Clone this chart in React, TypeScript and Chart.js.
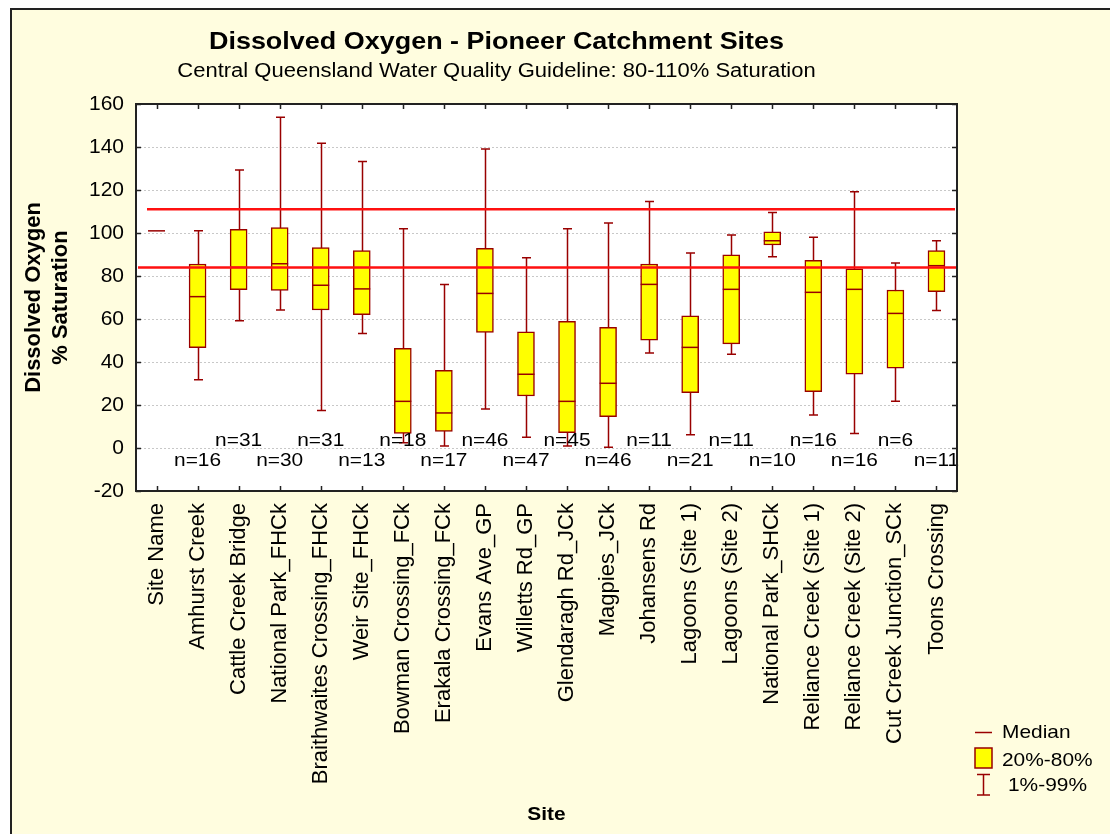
import React, { useEffect, useRef } from "react";
import { Chart, registerables } from "chart.js";

Chart.register(...registerables);

const categories = [
  "Site Name",
  "Amhurst Creek",
  "Cattle Creek Bridge",
  "National Park_FHCk",
  "Braithwaites Crossing_FHCk",
  "Weir Site_FHCk",
  "Bowman Crossing_FCk",
  "Erakala Crossing_FCk",
  "Evans Ave_GP",
  "Willetts Rd_GP",
  "Glendaragh Rd_JCk",
  "Magpies_JCk",
  "Johansens Rd",
  "Lagoons (Site 1)",
  "Lagoons (Site 2)",
  "National Park_SHCk",
  "Reliance Creek (Site 1)",
  "Reliance Creek (Site 2)",
  "Cut Creek Junction_SCk",
  "Toons Crossing",
];

const whiskerLow = [null, 31.8, 59.2, 64.2, 17.5, 53.2, 2.5, 0.9, 18.1, 5.0, 0.9, 0.3, 44.2, 6.2, 43.6, 89.0, 15.3, 6.8, 21.7, 63.9];
const boxLow = [null, 46.7, 73.6, 73.3, 64.2, 62.0, 6.8, 7.7, 53.8, 24.2, 7.1, 14.6, 50.2, 25.7, 48.4, 94.4, 26.2, 34.3, 37.1, 72.7];
const medians = [101, 70.4, 84.0, 85.7, 75.7, 74.0, 21.7, 16.3, 71.9, 34.3, 21.7, 30.1, 76.1, 46.8, 73.8, 96.4, 72.4, 73.8, 62.6, 84.8];
const boxHigh = [null, 85.6, 101.7, 102.5, 93.2, 91.8, 46.4, 36.1, 92.9, 54.0, 58.9, 56.1, 85.6, 61.5, 89.9, 100.6, 87.3, 83.3, 73.5, 91.8];
const whiskerHigh = [null, 101.0, 129.3, 153.8, 141.7, 133.2, 102.0, 76.1, 139.1, 88.5, 102.0, 104.7, 114.6, 90.7, 99.1, 109.5, 98.0, 119.2, 86.0, 96.4];
const sampleCounts = [null, 16, 31, 30, 31, 13, 18, 17, 46, 47, 45, 46, 11, 21, 11, 10, 16, 16, 6, 11];
const guidelineUpper = 111;
const guidelineLower = 84;
const nLabelUpperValue = 3.3;
const nLabelLowerValue = -6;

const titleText = "Dissolved Oxygen - Pioneer Catchment Sites";
const subtitleText = "Central Queensland Water Quality Guideline: 80-110% Saturation";
const yTitleLines = ["Dissolved Oxygen", "% Saturation"];
const xTitleText = "Site";
const legendItems = ["Median", "20%-80%", "1%-99%"];

const FONT = "'Liberation Sans', Arial, sans-serif";
const DARKRED = "#990000";
const BG = "#FFFDDF";
const STRETCH = 1.1;

function stretchedText(ctx: CanvasRenderingContext2D, text: string, x: number, y: number) {
  ctx.save();
  ctx.translate(x, y);
  ctx.scale(STRETCH, 1);
  ctx.fillText(text, 0, 0);
  ctx.restore();
}

export default function App() {
  const ref = useRef<HTMLCanvasElement | null>(null);

  useEffect(() => {
    document.body.style.margin = "0";
    const canvas = ref.current;
    if (!canvas) return;

    const boxPlugin = {
      id: "boxExtras",
      beforeDraw(chart: any) {
        const { ctx, chartArea: a } = chart;
        ctx.save();
        ctx.fillStyle = "#ffffff";
        ctx.fillRect(0, 0, chart.width, chart.height);
        ctx.fillStyle = BG;
        ctx.fillRect(10, 8, chart.width - 10, chart.height - 8);
        ctx.strokeStyle = "#222";
        ctx.lineWidth = 2;
        ctx.beginPath();
        ctx.moveTo(11, chart.height);
        ctx.lineTo(11, 9);
        ctx.lineTo(chart.width, 9);
        ctx.stroke();
        ctx.fillStyle = "#ffffff";
        ctx.fillRect(a.left, a.top, a.right - a.left, a.bottom - a.top);
        ctx.restore();
      },
      beforeDatasetsDraw(chart: any) {
        const { ctx } = chart;
        const xs = chart.scales.x;
        const ys = chart.scales.y;
        ctx.save();
        ctx.strokeStyle = DARKRED;
        ctx.lineWidth = 1.5;
        categories.forEach((_, i) => {
          const lo = whiskerLow[i];
          const hi = whiskerHigh[i];
          if (lo == null || hi == null) return;
          const x = Math.round(xs.getPixelForValue(i)) + 0.5;
          const y1 = ys.getPixelForValue(lo);
          const y2 = ys.getPixelForValue(hi);
          ctx.beginPath();
          ctx.moveTo(x, y1);
          ctx.lineTo(x, y2);
          ctx.moveTo(x - 4.5, y1);
          ctx.lineTo(x + 4.5, y1);
          ctx.moveTo(x - 4.5, y2);
          ctx.lineTo(x + 4.5, y2);
          ctx.stroke();
        });
        ctx.restore();
      },
      afterDatasetsDraw(chart: any) {
        const { ctx, chartArea: a } = chart;
        const xs = chart.scales.x;
        const ys = chart.scales.y;
        ctx.save();
        // medians
        ctx.strokeStyle = DARKRED;
        ctx.lineWidth = 1.5;
        categories.forEach((_, i) => {
          const m = medians[i];
          if (m == null) return;
          const x = xs.getPixelForValue(i);
          const y = ys.getPixelForValue(m);
          ctx.beginPath();
          ctx.moveTo(x - 8.5, y);
          ctx.lineTo(x + 8.5, y);
          ctx.stroke();
        });
        // guideline lines
        ctx.strokeStyle = "#FF1010";
        ctx.lineWidth = 2.5;
        ctx.beginPath();
        ctx.moveTo(a.left + 11, ys.getPixelForValue(guidelineUpper));
        ctx.lineTo(a.right - 2, ys.getPixelForValue(guidelineUpper));
        ctx.moveTo(a.left + 2, ys.getPixelForValue(guidelineLower));
        ctx.lineTo(a.right - 1, ys.getPixelForValue(guidelineLower));
        ctx.stroke();
        // n labels
        ctx.fillStyle = "#000";
        ctx.font = `19px ${FONT}`;
        ctx.textAlign = "center";
        ctx.textBaseline = "middle";
        categories.forEach((_, i) => {
          const n = sampleCounts[i];
          if (n == null) return;
          const v = i % 2 === 0 ? nLabelUpperValue : nLabelLowerValue;
          stretchedText(ctx, `n=${n}`, xs.getPixelForValue(i), ys.getPixelForValue(v));
        });
        // frame
        ctx.strokeStyle = "#222";
        ctx.lineWidth = 2;
        ctx.strokeRect(a.left, a.top, a.right - a.left, a.bottom - a.top);
        // inward ticks
        ctx.lineWidth = 1.5;
        ctx.beginPath();
        ys.ticks.forEach((t: any) => {
          const y = Math.round(ys.getPixelForValue(t.value)) + 0.5;
          ctx.moveTo(a.left, y);
          ctx.lineTo(a.left + 5, y);
          ctx.moveTo(a.right, y);
          ctx.lineTo(a.right - 5, y);
        });
        categories.forEach((_, i) => {
          const x = Math.round(xs.getPixelForValue(i)) + 0.5;
          ctx.moveTo(x, a.top);
          ctx.lineTo(x, a.top + 5);
          ctx.moveTo(x, a.bottom);
          ctx.lineTo(x, a.bottom - 5);
        });
        ctx.stroke();
        ctx.restore();
      },
      afterDraw(chart: any) {
        const { ctx, chartArea: a } = chart;
        ctx.save();
        ctx.fillStyle = "#000";
        ctx.textAlign = "center";
        ctx.textBaseline = "alphabetic";
        ctx.font = `bold 24.5px ${FONT}`;
        stretchedText(ctx, titleText, 496.5, 49.3);
        ctx.font = `20px ${FONT}`;
        stretchedText(ctx, subtitleText, 496.5, 77.3);
        // x title
        ctx.font = `bold 19px ${FONT}`;
        ctx.textBaseline = "middle";
        stretchedText(ctx, xTitleText, (a.left + a.right) / 2, 815);
        // y title
        const cy = (a.top + a.bottom) / 2;
        ctx.font = `bold 22px ${FONT}`;
        ctx.save();
        ctx.translate(34, cy);
        ctx.rotate(-Math.PI / 2);
        ctx.fillText(yTitleLines[0], 0, 0);
        ctx.restore();
        ctx.save();
        ctx.translate(61, cy);
        ctx.rotate(-Math.PI / 2);
        ctx.fillText(yTitleLines[1], 0, 0);
        ctx.restore();
        // legend
        ctx.strokeStyle = DARKRED;
        ctx.lineWidth = 1.5;
        ctx.beginPath();
        ctx.moveTo(975, 732.5);
        ctx.lineTo(992, 732.5);
        ctx.stroke();
        ctx.fillStyle = "#FFFF00";
        ctx.fillRect(975, 748, 17, 20);
        ctx.strokeRect(975, 748, 17, 20);
        ctx.beginPath();
        ctx.moveTo(977, 774.5);
        ctx.lineTo(990, 774.5);
        ctx.moveTo(983.5, 774.5);
        ctx.lineTo(983.5, 795);
        ctx.moveTo(977, 795);
        ctx.lineTo(990, 795);
        ctx.stroke();
        ctx.fillStyle = "#000";
        ctx.textAlign = "left";
        ctx.font = `19px ${FONT}`;
        stretchedText(ctx, legendItems[0], 1002, 733);
        stretchedText(ctx, legendItems[1], 1002, 761);
        stretchedText(ctx, legendItems[2], 1008, 786);
        ctx.restore();
      },
    };

    const chart = new Chart(canvas, {
      type: "bar",
      data: {
        labels: categories,
        datasets: [
          {
            label: "20%-80%",
            data: categories.map((_, i) =>
              boxLow[i] == null || boxHigh[i] == null ? null : [boxLow[i], boxHigh[i]]
            ) as any,
            backgroundColor: "#FFFF00",
            borderColor: DARKRED,
            borderWidth: 1.5,
            borderSkipped: false,
            barThickness: 17,
          },
        ],
      },
      options: {
        responsive: false,
        animation: false,
        devicePixelRatio: 1,
        layout: { padding: { left: 0, top: 104, right: 153, bottom: 0 } },
        plugins: {
          legend: { display: false },
          tooltip: { enabled: false },
          title: { display: false },
        },
        scales: {
          x: {
            type: "category",
            offset: true,
            grid: { display: false, drawTicks: false },
            border: { display: false },
            ticks: {
              color: "#000",
              font: { family: FONT, size: 22 },
              minRotation: 90,
              maxRotation: 90,
              padding: 12,
              autoSkip: false,
            },
            afterFit(scale: any) {
              scale.height = 343;
            },
          },
          y: {
            min: -20,
            max: 160,
            grid: {
              color: "#c8c8c8",
              lineWidth: 1,
              drawTicks: false,
            },
            border: { display: false, dash: [2, 2] } as any,
            ticks: {
              stepSize: 20,
              color: "#000",
              font: { family: FONT, size: 21 },
              padding: 12,
            },
            afterFit(scale: any) {
              scale.width = 136;
            },
          },
        },
      },
      plugins: [boxPlugin],
    });

    return () => chart.destroy();
  }, []);

  return (
    <div style={{ width: 1110, height: 834 }}>
      <canvas ref={ref} width={1110} height={834} style={{ display: "block" }} />
    </div>
  );
}
